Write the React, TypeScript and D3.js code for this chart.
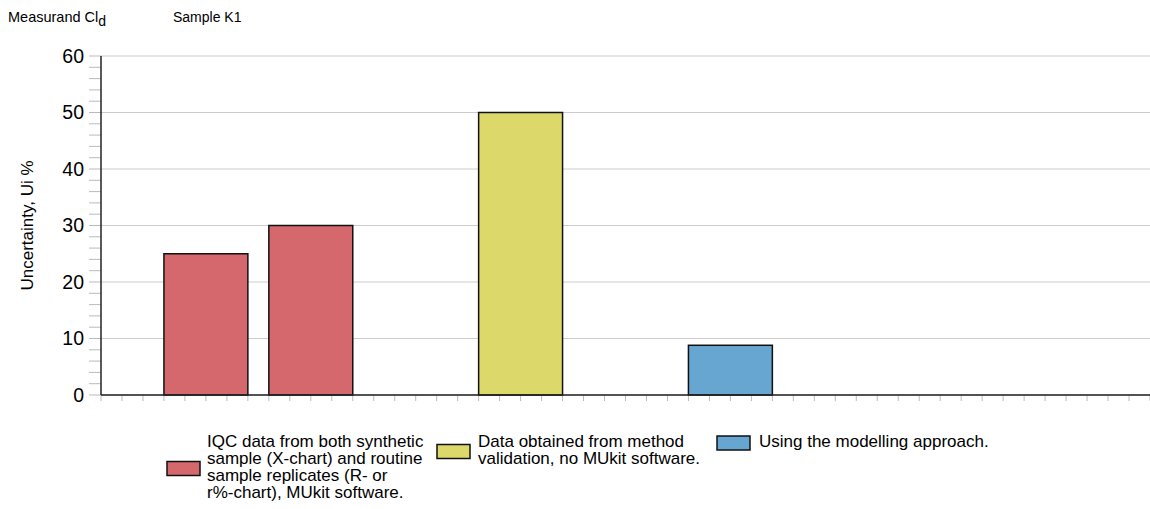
import React from "react";
import * as d3 from "d3";

const categories = [1, 2, 4, 6];
const values = [25, 30, 50, 8.8];
const seriesIndex = [0, 0, 1, 2];
const seriesColors = ["#d4686d", "#dcd96a", "#67a6d0"];
const legendLines = [
  ["IQC data from both synthetic", "sample (X-chart) and routine", "sample replicates (R- or", "r%-chart), MUkit software."],
  ["Data obtained from method", "validation, no MUkit software."],
  ["Using the modelling approach."],
];
const yTicks = [0, 10, 20, 30, 40, 50, 60];

const W = 1150, H = 509;
const FONT = "'Liberation Sans', Arial, sans-serif";

export default function App() {
  const x = d3.scaleLinear().domain([0, 10]).range([101, 1150]);
  const y = d3.scaleLinear().domain([0, 60]).range([395, 56]);
  const minorY = d3.range(0, 60.001, 2);
  const minorX = d3.range(0, 10.001, 0.2);
  const bw = (x(1) - x(0)) * 0.8;
  const legendX = [167, 437, 717];
  const legendTextX = [207, 478, 759];
  const lh = 17;
  const legTop = 441;
  return (
    <svg width={W} height={H} style={{ position: "absolute", left: 0, top: 0, fontFamily: FONT }}>
      <text x={8} y={22} fontSize={14.5} fill="#000">
        Measurand Cl<tspan fontSize={14} dy={4}>d</tspan>
      </text>
      <text x={173} y={22} fontSize={14} fill="#000">Sample K1</text>
      {yTicks.map((t) => (
        <line key={"g" + t} x1={101} x2={1150} y1={y(t)} y2={y(t)} stroke="#cccccc" strokeWidth={1} />
      ))}
      {minorY.map((t) => (
        <line key={"my" + t} x1={89} x2={101} y1={y(t)} y2={y(t)} stroke="#bbbbbb" strokeWidth={1} />
      ))}
      {minorX.map((t, i) => (
        <line key={"mx" + i} x1={x(t)} x2={x(t)} y1={395} y2={401} stroke="#bbbbbb" strokeWidth={1} />
      ))}
      {yTicks.map((t) => (
        <text key={"l" + t} x={84} y={y(t)} dy="0.35em" fontSize={19.5} textAnchor="end" fill="#000">{t}</text>
      ))}
      <text transform={`translate(33,${y(30)}) rotate(-90)`} textAnchor="middle" fontSize={17} fill="#000">Uncertainty, Ui %</text>
      {categories.map((c, i) => (
        <rect key={"b" + i} x={x(c) - bw / 2} y={y(values[i])} width={bw} height={y(0) - y(values[i])}
          fill={seriesColors[seriesIndex[i]]} stroke="#111" strokeWidth={1.5} />
      ))}
      <line x1={101} x2={101} y1={56} y2={395} stroke="#222" strokeWidth={1.5} />
      <line x1={101} x2={1150} y1={395} y2={395} stroke="#222" strokeWidth={1.5} />
      {legendLines.map((lines, i) => {
        const n = lines.length;
        const cy = legTop + ((n - 1) * lh) / 2 + 2;
        return (
          <g key={"lg" + i}>
            <rect x={legendX[i]} y={cy - 7} width={33} height={14} fill={seriesColors[i]} stroke="#111" strokeWidth={1.5} />
            {lines.map((s, j) => (
              <text key={j} x={legendTextX[i]} y={legTop + j * lh} dy="0.35em" fontSize={17} fill="#000">{s}</text>
            ))}
          </g>
        );
      })}
    </svg>
  );
}
